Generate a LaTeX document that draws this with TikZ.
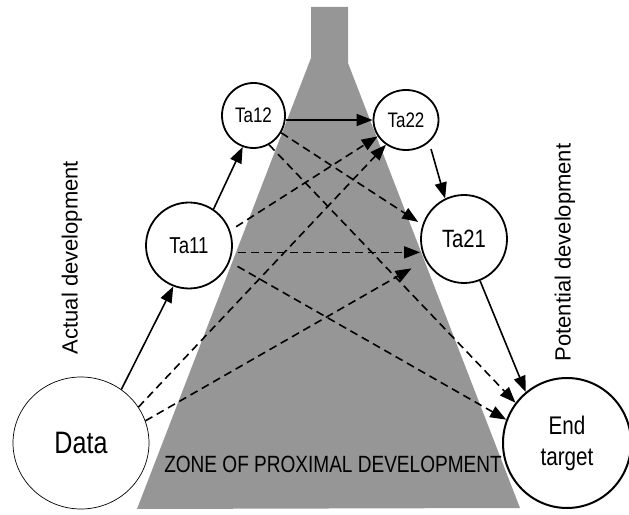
\documentclass[tikz,border=0pt]{standalone}
\usepackage{fontspec}
\setmainfont{Liberation Sans}
\newfontfamily\narrowfont{Liberation Sans}[FakeStretch=0.81]
\usetikzlibrary{arrows.meta,shapes.geometric}
\definecolor{zpdgray}{RGB}{150,150,150}

\begin{document}
\begin{tikzpicture}[x=1pt,y=1pt,
    task/.style={ellipse,draw,line width=1.8pt,fill=white,inner sep=0pt},
    link/.style={line width=1.6pt,-{Triangle[length=16pt,width=12pt]}},
    cross/.style={link,dash pattern=on 8pt off 5pt}]
  \useasboundingbox (0,0) rectangle (629,514);
  % zone of proximal development
  \fill[zpdgray] (311,507) -- (348,507) -- (348,451) -- (520,6)
    -- (137,5) -- (311,456) -- cycle;
  \node (zpd) at (333,50) {\narrowfont\fontsize{23.5}{27}\selectfont ZONE OF PROXIMAL DEVELOPMENT};
  % side labels
  \node[rotate=90] (actual) at (72,256.5) {\fontsize{22}{25}\selectfont Actual development};
  \node[rotate=90] (potential) at (565,261.5) {\fontsize{22}{25}\selectfont Potential development};
  % tasks
  \node[task,line width=0.7pt,minimum width=136pt,minimum height=132pt,
    font=\narrowfont\fontsize{31}{35}\selectfont] (data) at (81,71) {Data};
  \node[task,line width=2pt,minimum width=128pt,minimum height=130pt,align=center,
    font=\narrowfont\fontsize{25.5}{31}\selectfont] (target) at (567,71) {End\\target};
  \node[task,minimum width=86pt,minimum height=86pt,
    font=\narrowfont\fontsize{23}{27}\selectfont] (ta11) at (189,268.5) {Ta11};
  \node[task,minimum width=63pt,minimum height=65pt,
    font=\narrowfont\fontsize{21}{24}\selectfont] (ta12) at (253.5,398.5) {Ta12};
  \node[task,minimum width=65pt,minimum height=60pt,
    font=\narrowfont\fontsize{21}{24}\selectfont] (ta22) at (406,394) {Ta22};
  \node[task,minimum width=86pt,minimum height=88pt,
    font=\narrowfont\fontsize{25}{29}\selectfont] (ta21) at (464,275) {Ta21};
  % actual path
  \draw[link] (data.53) -- (ta11.249);
  \draw[link] (ta11.56) -- (ta12.251);
  \draw[link] (ta12.-8) -- (ta12.-8 -| ta22.west);
  \draw[link,shorten <=7pt] (ta22.-44) -- (ta21.115);
  \draw[link] (ta21.-69) -- (target.129);
  % crossing paths
  \draw[cross] (data.32) -- (ta22.231);
  \draw[cross,shorten >=16pt] (data.19) -- (ta21.209);
  \draw[cross,shorten <=7pt] (ta11.20) -- (ta22.210);
  \draw[cross,shorten <=6pt] (ta11.-9) -- (ta11.-9 -| ta21.west);
  \draw[cross,shorten <=9pt] (ta11.-22) -- (target.159);
  \draw[cross,shorten >=5pt] (ta12.-32) -- (ta21.161);
  \draw[cross] (ta12.-62) -- (target.142);
\end{tikzpicture}
\end{document}
